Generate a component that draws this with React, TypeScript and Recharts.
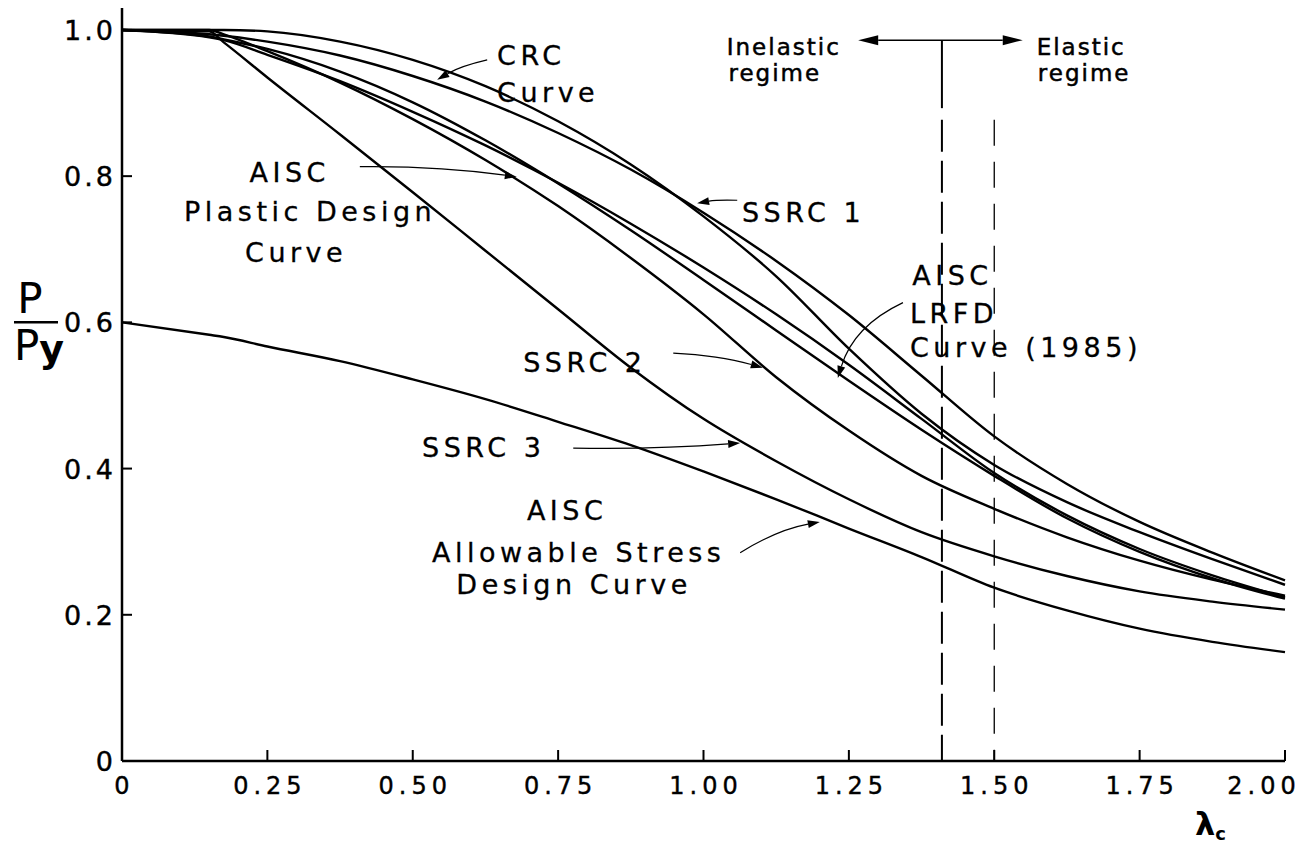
import React from 'react';
import { LineChart, Line, XAxis, YAxis, ReferenceLine, ReferenceDot } from 'recharts';

// slenderness parameter and P/Py
const lambda = [0, 0.15, 0.175, 0.25, 0.375, 0.5, 0.625, 0.75, 0.875, 1.0, 1.125, 1.25, 1.375, 1.5, 1.625, 1.75, 1.875, 2.0];
const crc = [1.0, 0.994, 0.992, 0.984, 0.965, 0.937, 0.902, 0.859, 0.809, 0.75, 0.684, 0.61, 0.527, 0.444, 0.379, 0.327, 0.285, 0.247];
const ssrc1 = [1.0, 1.0, 1.0, 0.998, 0.984, 0.959, 0.923, 0.875, 0.816, 0.745, 0.663, 0.564, 0.475, 0.405, 0.354, 0.313, 0.276, 0.241];
const ssrc2 = [1.0, 1.0, 0.994, 0.971, 0.928, 0.878, 0.822, 0.759, 0.688, 0.611, 0.525, 0.452, 0.39, 0.345, 0.306, 0.274, 0.248, 0.226];
const ssrc3 = [1.0, 0.998, 0.983, 0.935, 0.857, 0.778, 0.698, 0.618, 0.538, 0.468, 0.41, 0.358, 0.313, 0.28, 0.253, 0.232, 0.218, 0.207];
const lrfd = [1.0, 0.991, 0.987, 0.974, 0.943, 0.901, 0.849, 0.79, 0.726, 0.658, 0.589, 0.52, 0.453, 0.39, 0.332, 0.286, 0.25, 0.222];
const plastic = [1.0, 0.99, 0.986, 0.966, 0.93, 0.888, 0.842, 0.791, 0.735, 0.675, 0.611, 0.542, 0.468, 0.394, 0.336, 0.29, 0.254, 0.224];
const asd = [0.6, 0.583, 0.58, 0.567, 0.547, 0.522, 0.495, 0.464, 0.432, 0.396, 0.358, 0.318, 0.279, 0.237, 0.206, 0.181, 0.163, 0.149];

const seriesKeys = ['crc', 'ssrc1', 'ssrc2', 'ssrc3', 'lrfd', 'plastic', 'asd'];

const xTicks = [0, 0.25, 0.5, 0.75, 1.0, 1.25, 1.5, 1.75, 2.0];
const xTickText = ['0', '0.25', '0.50', '0.75', '1.00', '1.25', '1.50', '1.75', '2.00'];
const yTicks = [0, 0.2, 0.4, 0.6, 0.8, 1.0];
const yTickText = ['0', '0.2', '0.4', '0.6', '0.8', '1.0'];

// text notes in data coordinates (baseline)
const notes = [
  { x: 0.645, y: 0.952, text: 'CRC', anchor: 'start' },
  { x: 0.645, y: 0.901, text: 'Curve', anchor: 'start' },
  { x: 0.285, y: 0.792, text: 'AISC', anchor: 'middle' },
  { x: 0.32, y: 0.739, text: 'Plastic Design', anchor: 'middle' },
  { x: 0.296, y: 0.683, text: 'Curve', anchor: 'middle' },
  { x: 1.066, y: 0.737, text: 'SSRC 1', anchor: 'start' },
  { x: 0.69, y: 0.532, text: 'SSRC 2', anchor: 'start' },
  { x: 0.516, y: 0.416, text: 'SSRC 3', anchor: 'start' },
  { x: 0.762, y: 0.33, text: 'AISC', anchor: 'middle' },
  { x: 0.782, y: 0.272, text: 'Allowable Stress', anchor: 'middle' },
  { x: 0.774, y: 0.228, text: 'Design Curve', anchor: 'middle' },
  { x: 1.359, y: 0.651, text: 'AISC', anchor: 'start' },
  { x: 1.355, y: 0.599, text: 'LRFD', anchor: 'start' },
  { x: 1.355, y: 0.553, text: 'Curve (1985)', anchor: 'start' },
];
const regimeNotes = [
  { x: 1.04, y: 0.966, text: 'Inelastic' },
  { x: 1.043, y: 0.93, text: 'regime' },
  { x: 1.573, y: 0.966, text: 'Elastic' },
  { x: 1.575, y: 0.93, text: 'regime' },
];

// leader arrows: from, to, bend in px
const leaders = [
  { x1: 0.628, y1: 0.959, x2: 0.542, y2: 0.932, bend: 4 },
  { x1: 0.409, y1: 0.813, x2: 0.679, y2: 0.799, bend: -6 },
  { x1: 1.058, y1: 0.767, x2: 0.989, y2: 0.763, bend: 2 },
  { x1: 0.948, y1: 0.558, x2: 1.102, y2: 0.538, bend: -5 },
  { x1: 0.776, y1: 0.428, x2: 1.063, y2: 0.435, bend: 4 },
  { x1: 1.063, y1: 0.285, x2: 1.2, y2: 0.327, bend: -8 },
  { x1: 1.343, y1: 0.627, x2: 1.231, y2: 0.524, bend: 22 },
];

const FONT = '"DejaVu Sans", "Liberation Sans", sans-serif';

const table = lambda.map((l, i) => ({
  l,
  crc: crc[i],
  ssrc1: ssrc1[i],
  ssrc2: ssrc2[i],
  ssrc3: ssrc3[i],
  lrfd: lrfd[i],
  plastic: plastic[i],
  asd: asd[i],
}));

function XTick(props: any) {
  const { x, y, payload } = props;
  const v = payload.value;
  return (
    <g>
      {v > 0 && <line x1={x} y1={y} x2={x} y2={y - 11} stroke="#000" strokeWidth={2} />}
      <text
        x={x}
        y={y + 33}
        dx={v === 2 ? -21 : 2.5}
        textAnchor="middle"
        fontFamily={FONT}
        fontSize={24}
        letterSpacing={5}
        fill="#000"
        stroke="#000"
        strokeWidth={0.4}
      >
        {xTickText[xTicks.indexOf(v)]}
      </text>
    </g>
  );
}

function YTick(props: any) {
  const { x, y, payload } = props;
  const v = payload.value;
  return (
    <g>
      {v > 0 && <line x1={x} y1={y} x2={x + 10} y2={y} stroke="#000" strokeWidth={2} />}
      <text
        x={x - 9}
        y={y}
        dx={3}
        dy={10}
        textAnchor="end"
        fontFamily={FONT}
        fontSize={27}
        letterSpacing={3}
        fill="#000"
        stroke="#000"
        strokeWidth={0.4}
      >
        {yTickText[yTicks.indexOf(v)]}
      </text>
    </g>
  );
}

function YTitle(props: any) {
  const vb = props.viewBox;
  const mid = vb.y + vb.height * (1 - 0.6 / 1.03);
  return (
    <g fontFamily={FONT} fill="#000">
      <text x={30} y={mid - 9} textAnchor="middle" fontSize={42}>P</text>
      <line x1={14} y1={mid} x2={58} y2={mid} stroke="#000" strokeWidth={2.5} />
      <text x={14} y={mid + 38} fontSize={42}>
        P<tspan fontWeight="bold" fontSize={38} dy={2}>y</tspan>
      </text>
    </g>
  );
}

function XTitle(props: any) {
  const vb = props.viewBox;
  const x = vb.x + vb.width - 90;
  return (
    <g fontFamily={FONT} fill="#000">
      <text x={x} y={vb.y + 74} fontSize={32} fontWeight="bold">
        λ<tspan fontSize={18} dy={5}>c</tspan>
      </text>
    </g>
  );
}

function Leader(props: any) {
  const { x1, y1, x2, y2, bend } = props;
  const mx = (x1 + x2) / 2;
  const my = (y1 + y2) / 2;
  const dx = x2 - x1;
  const dy = y2 - y1;
  const len = Math.hypot(dx, dy) || 1;
  const cx = mx - (dy / len) * bend;
  const cy = my + (dx / len) * bend;
  const tx = x2 - cx;
  const ty = y2 - cy;
  const tl = Math.hypot(tx, ty) || 1;
  const ux = tx / tl;
  const uy = ty / tl;
  const ah = 12;
  const aw = 4;
  const bx = x2 - ux * ah;
  const by = y2 - uy * ah;
  return (
    <g>
      <path d={`M${x1},${y1} Q${cx},${cy} ${bx},${by}`} fill="none" stroke="#000" strokeWidth={1.2} />
      <polygon
        points={`${x2},${y2} ${bx - uy * aw},${by + ux * aw} ${bx + uy * aw},${by - ux * aw}`}
        fill="#000"
      />
    </g>
  );
}

function DoubleArrow(props: any) {
  const { x1, y1, x2, y2 } = props;
  const ah = 20;
  const aw = 5;
  return (
    <g>
      <line x1={x1 + ah} y1={y1} x2={x2 - ah} y2={y2} stroke="#000" strokeWidth={1.5} />
      <polygon points={`${x1},${y1} ${x1 + ah},${y1 - aw} ${x1 + ah},${y1 + aw}`} fill="#000" />
      <polygon points={`${x2},${y2} ${x2 - ah},${y2 - aw} ${x2 - ah},${y2 + aw}`} fill="#000" />
    </g>
  );
}

export default function App() {
  return (
    <div style={{ position: 'fixed', left: 0, top: 0, width: 1309, height: 845, background: '#fff' }}>
      <LineChart width={1309} height={845} data={table} margin={{ top: 8, right: 24, left: 62, bottom: 24 }}>
        <XAxis
          dataKey="l"
          type="number"
          domain={[0, 2]}
          ticks={xTicks}
          height={60}
          tickSize={0}
          tickMargin={0}
          tickLine={false}
          axisLine={{ stroke: '#000', strokeWidth: 2.5 }}
          tick={<XTick />}
          label={{ content: (p: any) => <XTitle {...p} /> }}
        />
        <YAxis
          type="number"
          domain={[0, 1.03]}
          ticks={yTicks}
          width={60}
          tickSize={0}
          tickMargin={0}
          tickLine={false}
          axisLine={{ stroke: '#000', strokeWidth: 2.5 }}
          tick={<YTick />}
          label={{ content: (p: any) => <YTitle {...p} /> }}
        />

        <ReferenceLine segment={[{ x: 1.41, y: 0.986 }, { x: 1.41, y: 0.893 }]} stroke="#000" strokeWidth={2} ifOverflow="visible" />
        <ReferenceLine segment={[{ x: 1.41, y: 0.877 }, { x: 1.41, y: 0 }]} stroke="#000" strokeWidth={2} strokeDasharray="32 9" ifOverflow="visible" />
        <ReferenceLine segment={[{ x: 1.5, y: 0.877 }, { x: 1.5, y: 0 }]} stroke="#000" strokeWidth={1.3} strokeDasharray="26 16" ifOverflow="visible" />
        <ReferenceLine
          segment={[{ x: 1.266, y: 0.986 }, { x: 1.549, y: 0.986 }]}
          ifOverflow="visible"
          shape={(p: any) => <DoubleArrow {...p} />}
        />

        {seriesKeys.map((k) => (
          <Line
            key={k}
            dataKey={k}
            type="monotone"
            stroke="#000"
            strokeWidth={2.4}
            dot={false}
            activeDot={false}
            isAnimationActive={false}
          />
        ))}

        {leaders.map((d, i) => (
          <ReferenceLine
            key={'ld' + i}
            segment={[{ x: d.x1, y: d.y1 }, { x: d.x2, y: d.y2 }]}
            ifOverflow="visible"
            shape={(p: any) => <Leader {...p} bend={d.bend} />}
          />
        ))}

        {notes.map((n, i) => (
          <ReferenceDot
            key={'n' + i}
            x={n.x}
            y={n.y}
            r={0}
            ifOverflow="visible"
            shape={(p: any) => (
              <text
                x={p.cx}
                y={p.cy}
                dx={n.anchor === 'middle' ? 2 : 0}
                textAnchor={n.anchor}
                fontFamily={FONT}
                fontSize={27}
                letterSpacing={4.5}
                fill="#000"
                stroke="#000"
                strokeWidth={0.3}
              >
                {n.text}
              </text>
            )}
          />
        ))}
        {regimeNotes.map((n, i) => (
          <ReferenceDot
            key={'r' + i}
            x={n.x}
            y={n.y}
            r={0}
            ifOverflow="visible"
            shape={(p: any) => (
              <text x={p.cx} y={p.cy} fontFamily={FONT} fontSize={23} letterSpacing={2} fill="#000" stroke="#000" strokeWidth={0.5}>
                {n.text}
              </text>
            )}
          />
        ))}
      </LineChart>
    </div>
  );
}
